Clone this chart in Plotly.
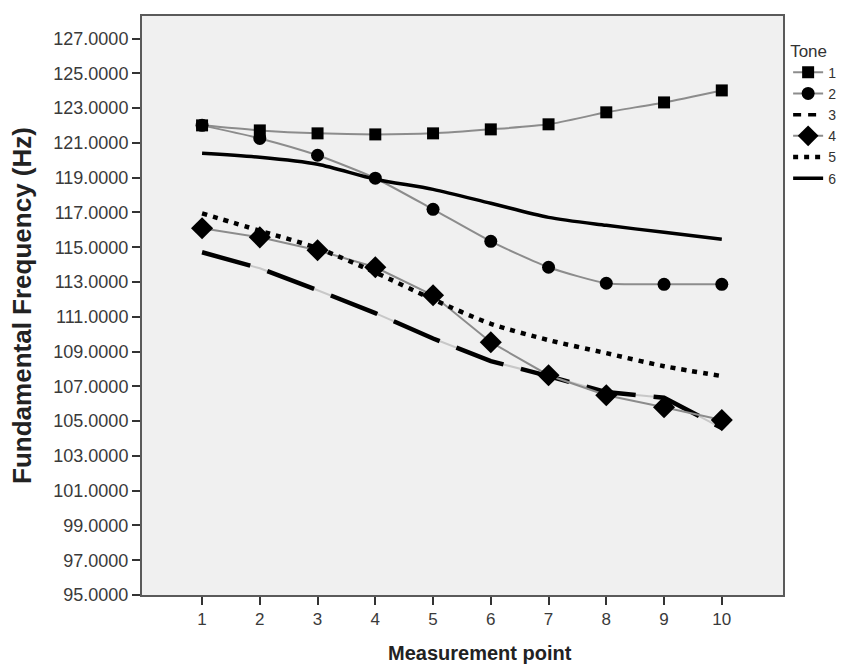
import plotly.graph_objects as go

# Mean fundamental frequency (Hz) per tone at each measurement point
points = [1, 2, 3, 4, 5, 6, 7, 8, 9, 10]
tone1 = [122.01, 121.72, 121.55, 121.49, 121.55, 121.78, 122.07, 122.76, 123.33, 124.02]
tone2 = [122.01, 121.26, 120.29, 118.97, 117.18, 115.34, 113.85, 112.93, 112.87, 112.87]
tone3 = [114.71, 113.79, 112.53, 111.21, 109.75, 108.45, 107.59, 106.67, 106.35, 104.60]
tone4 = [116.09, 115.57, 114.83, 113.85, 112.24, 109.54, 107.64, 106.49, 105.80, 105.06]
tone5 = [116.95, 115.95, 114.95, 113.55, 112.00, 110.60, 109.66, 108.91, 108.16, 107.59]
tone6 = [120.40, 120.17, 119.77, 118.91, 118.33, 117.53, 116.72, 116.26, 115.86, 115.46]

ytick_vals = list(range(95, 128, 2))
ytick_text = [f"{v:.4f}" for v in ytick_vals]

FONT = "Liberation Sans, Arial, sans-serif"
GREY_LINE = "#8c8c8c"

fig = go.Figure()

# Marker series joined by thin grey lines
fig.add_trace(go.Scatter(
    x=points, y=tone1, name="1", mode="lines+markers", legendrank=1,
    line=dict(color=GREY_LINE, width=2, shape="spline", smoothing=0.6),
    marker=dict(symbol="square", size=12, color="black"),
))
fig.add_trace(go.Scatter(
    x=points, y=tone2, name="2", mode="lines+markers", legendrank=2,
    line=dict(color=GREY_LINE, width=2, shape="spline", smoothing=0.6),
    marker=dict(symbol="circle", size=13, color="black"),
))

# Tone 3: long black dashes over a faint grey base line
fig.add_trace(go.Scatter(
    x=points, y=tone3, mode="lines", showlegend=False, hoverinfo="skip",
    line=dict(color="#c8c8c8", width=2),
))
fig.add_trace(go.Scatter(
    x=points, y=tone3, name="3", mode="lines", showlegend=False,
    line=dict(color="black", width=4.5, dash="50px,18px"),
))
# legend key for tone 3 uses a shorter dash so the pattern is visible
fig.add_trace(go.Scatter(
    x=[None], y=[None], name="3", mode="lines", legendrank=3,
    line=dict(color="black", width=3.5, dash="8px,7px"),
))

fig.add_trace(go.Scatter(
    x=points, y=tone4, name="4", mode="lines+markers", legendrank=4,
    line=dict(color=GREY_LINE, width=2),
    marker=dict(symbol="diamond", size=17, color="black"),
))
fig.add_trace(go.Scatter(
    x=points, y=tone5, name="5", mode="lines", legendrank=5,
    line=dict(color="black", width=4.5, dash="5px,6px", shape="spline", smoothing=0.8),
))
fig.add_trace(go.Scatter(
    x=points, y=tone6, name="6", mode="lines", legendrank=6,
    line=dict(color="black", width=3.5, shape="spline", smoothing=0.8),
))

axis_line = dict(showline=True, linecolor="#5a5a5a", linewidth=2, mirror=True,
                 showgrid=False, zeroline=False, ticks="outside",
                 tickcolor="#333333", tickwidth=2, ticklen=8)

fig.update_xaxes(
    range=[-0.04, 11.06], tickvals=points, ticktext=[str(p) for p in points],
    tickfont=dict(family=FONT, size=17, color="#3a3a3a"),
    **axis_line,
)
fig.update_yaxes(
    range=[95, 128.3], tickvals=ytick_vals, ticktext=ytick_text,
    tickfont=dict(family=FONT, size=18, color="#3a3a3a"),
    title=dict(text="<b>Fundamental Frequency (Hz)</b>", standoff=14,
               font=dict(family=FONT, size=26, color="#222222")),
    **axis_line,
)

# x-axis title placed as a paper annotation below the tick labels
fig.add_annotation(
    text="<b>Measurement point</b>", xref="paper", yref="paper",
    x=0.527, y=-0.101, xanchor="center", yanchor="middle", showarrow=False,
    font=dict(family=FONT, size=20, color="#222222"),
)

fig.update_layout(
    width=844, height=671,
    margin=dict(l=142, r=61, t=16, b=76, autoexpand=False),
    paper_bgcolor="white", plot_bgcolor="#f0f0f0",
    font=dict(family=FONT, color="#333333"),
    legend=dict(
        title=dict(text="Tone", font=dict(family=FONT, size=17, color="#333333")),
        x=1.008, xanchor="left", y=0.968, yanchor="top",
        font=dict(family=FONT, size=14, color="#333333"),
        itemwidth=30, tracegroupgap=0, bgcolor="rgba(0,0,0,0)",
        traceorder="normal",
    ),
)

fig.write_html("out.html")
